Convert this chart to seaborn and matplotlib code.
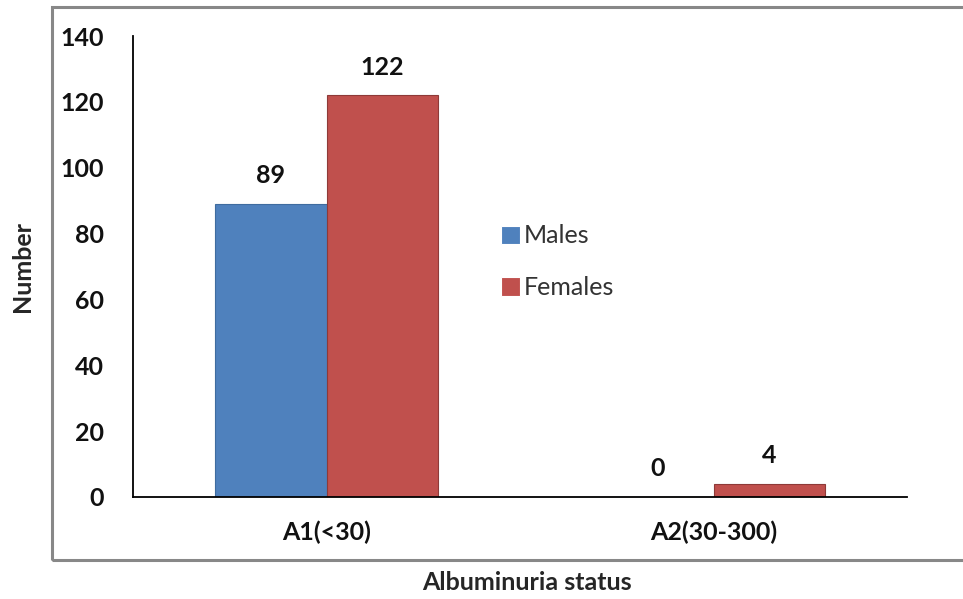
import numpy as np
import matplotlib.pyplot as plt
import pandas as pd
import seaborn as sns
from matplotlib.patches import Rectangle
from matplotlib.ticker import MultipleLocator, FixedLocator

# Data
categories = ["A1(<30)", "A2(30-300)"]
males = [89, 0]
females = [122, 4]
series = ["Males", "Females"]

df = pd.DataFrame({
    "status": categories * 2,
    "sex": ["Males"] * len(categories) + ["Females"] * len(categories),
    "count": males + females,
})

sns.set_style("white")
plt.rcParams['font.family'] = ['Lato', 'DejaVu Sans']

fig = plt.figure(figsize=(9.63, 5.99), dpi=100)
ax = fig.add_axes([133 / 963, 1 - 497 / 599, (907 - 133) / 963, (497 - 36) / 599])

palette = {"Males": "#4F81BD", "Females": "#C0504D"}
sns.barplot(data=df, x="status", y="count", hue="sex", hue_order=series,
            order=categories, palette=palette, width=0.574, ax=ax,
            saturation=1, linewidth=0.8, legend=True)

for cont, edge in zip(ax.containers, ["#3f6c9f", "#8e3a38"]):
    for p in cont.patches:
        p.set_edgecolor(edge)
    ax.bar_label(cont, padding=12, fontsize=18, fontweight='bold', color='#111111')

ax.set_xlim(-0.5, 1.5)
ax.set_ylim(0, 140)
ax.yaxis.set_major_locator(MultipleLocator(20))

# x ticks at category boundaries, labels centered
ax.xaxis.set_major_locator(FixedLocator([-0.5, 0.5, 1.5]))
ax.xaxis.set_major_formatter(plt.NullFormatter())
ax.xaxis.set_minor_locator(FixedLocator([0, 1]))
ax.set_xticklabels(categories, minor=True)
ax.tick_params(axis='x', which='major', direction='out', length=7, width=1.3, color='black')
ax.tick_params(axis='x', which='minor', length=0, pad=17, labelsize=18)
ax.tick_params(axis='y', direction='out', length=7, width=1.3, color='black', labelsize=18, pad=14)
for lab in ax.get_yticklabels() + ax.get_xticklabels(minor=True):
    lab.set_fontweight('bold')
    lab.set_color('#111111')

for s in ["top", "right"]:
    ax.spines[s].set_visible(False)
for s in ["left", "bottom"]:
    ax.spines[s].set_color("black")
    ax.spines[s].set_linewidth(1.3)

ax.set_xlabel("")
ax.set_ylabel("")
fig.text(22 / 963, 1 - 266 / 599, "Number", rotation=90, ha='center', va='center',
         fontsize=18, fontweight='bold')
fig.text(527 / 963, 1 - 583 / 599, "Albuminuria status", ha='center', va='center',
         fontsize=18, fontweight='bold')

leg = ax.legend(loc='upper left', bbox_to_anchor=(0.447, 0.64), frameon=False,
                fontsize=18, handlelength=0.75, handleheight=0.75,
                handletextpad=0.15, labelspacing=1.15)
for t in leg.get_texts():
    t.set_color('#333333')

# chart area frame
fig.patches.append(Rectangle((52 / 963, 1 - 560 / 599), 1.0, (560 - 7) / 599,
                             transform=fig.transFigure, fill=False,
                             edgecolor='#888888', linewidth=2.2))

plt.savefig("out.png", dpi=100)
